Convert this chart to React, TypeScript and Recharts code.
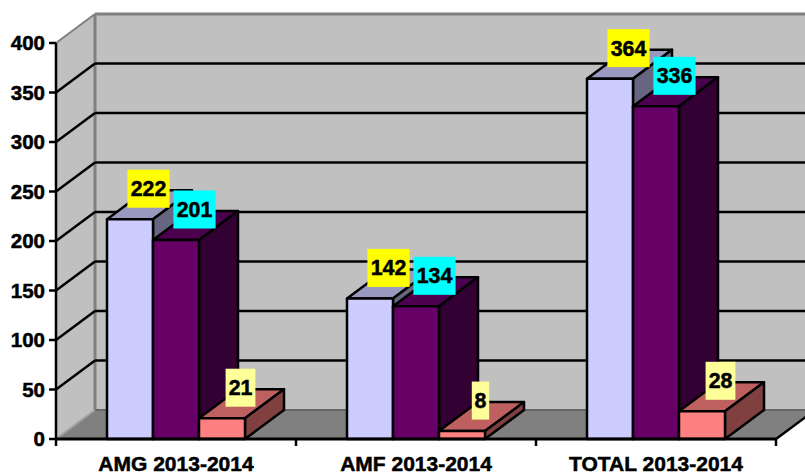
import React from "react";
import { BarChart, Bar, XAxis, YAxis, ReferenceArea, ReferenceLine, LabelList } from "recharts";

const categories = ["AMG 2013-2014", "AMF 2013-2014", "TOTAL 2013-2014"];
const seriesA = [222, 142, 364];
const seriesB = [201, 134, 336];
const seriesC = [21, 8, 28];
const yTicks = [0, 50, 100, 150, 200, 250, 300, 350, 400];
const gridValues = [50, 100, 150, 200, 250, 300, 350];

const data = categories.map((name, i) => ({ name, a: seriesA[i], b: seriesB[i], c: seriesC[i] }));

const DX = 39;
const DY = 29;
const FONT = "'Liberation Sans', Arial, sans-serif";

const pts = (p: number[][]) => p.map((q) => q.join(",")).join(" ");

const Walls = (props: any) => {
  const { x, y, width, height } = props;
  const b = y + height;
  const r = x + width;
  return (
    <g>
      <polygon points={pts([[x, y], [x + DX, y - DY], [r + DX, y - DY], [r + DX, b - DY], [x + DX, b - DY], [x, b]])} fill="#C0C0C0" />
      <polygon points={pts([[x, b], [x + DX, b - DY], [r + DX, b - DY], [r, b]])} fill="#808080" />
      <line x1={x + DX} y1={y - DY} x2={r + DX} y2={y - DY} stroke="#808080" strokeWidth={3} />
      <line x1={x + DX} y1={y - DY} x2={x + DX} y2={b - DY} stroke="#808080" strokeWidth={3} />
      <line x1={x} y1={y} x2={x + DX} y2={y - DY} stroke="#808080" strokeWidth={2} />
      <line x1={x} y1={b} x2={x + DX} y2={b - DY} stroke="#A0A0A0" strokeWidth={2} />
      <line x1={x + DX} y1={b - DY} x2={r + DX} y2={b - DY} stroke="#666666" strokeWidth={2} />
      <line x1={r} y1={b} x2={r + DX} y2={b - DY} stroke="#000" strokeWidth={2.5} />
      {[0, 1, 2, 3].map((i) => {
        const tx = x + (i * width) / categories.length;
        return <line key={i} x1={tx} y1={b} x2={tx} y2={b + 7} stroke="#000" strokeWidth={2.5} />;
      })}
    </g>
  );
};

const GridLine = (props: any) => {
  const { x1, y1, x2, y2 } = props;
  return (
    <g>
      <line x1={x1} y1={y1} x2={x1 + DX} y2={y1 - DY} stroke="#000" strokeWidth={2.5} />
      <line x1={x1 + DX} y1={y1 - DY} x2={x2 + DX} y2={y2 - DY} stroke="#000" strokeWidth={2.5} />
    </g>
  );
};

const box3d = (front: string, top: string, side: string) => (props: any) => {
  const { x, y, width, height } = props;
  const r = x + width;
  const b = y + height;
  return (
    <g stroke="#000" strokeWidth={2.5} strokeLinejoin="round">
      <polygon points={pts([[x, y], [x + DX, y - DY], [r + DX, y - DY], [r, y]])} fill={top} />
      <polygon points={pts([[r, y], [r + DX, y - DY], [r + DX, b - DY], [r, b]])} fill={side} />
      <rect x={x} y={y} width={width} height={height} fill={front} />
    </g>
  );
};

const valueTag = (fill: string) => (props: any) => {
  const { x, y, width, value } = props;
  const w = String(value).length * 12.4 + 5;
  const cx = x + width / 2 + 18.5;
  const cy = y - 30.5;
  return (
    <g>
      <rect x={cx - w / 2} y={cy - 19} width={w} height={38} fill={fill} />
      <text x={cx} y={cy + 7.5} textAnchor="middle" fontFamily={FONT} fontWeight="bold" fontSize={21.33} fill="#000" stroke="#000" strokeWidth={0.5}>
        {value}
      </text>
    </g>
  );
};

const yTickStyle = { fontFamily: FONT, fontWeight: "bold" as const, fontSize: 20.5, fill: "#000", stroke: "#000", strokeWidth: 0.5 };
const xTickStyle = { fontFamily: FONT, fontWeight: "bold" as const, fontSize: 21, fill: "#000", stroke: "#000", strokeWidth: 0.5 };

export default function App() {
  return (
    <div style={{ position: "absolute", left: 0, top: 0, width: 805, height: 473, overflow: "hidden", background: "#fff" }}>
      <BarChart
        width={805}
        height={473}
        data={data}
        margin={{ top: 43, right: 29, bottom: 0, left: 0 }}
        barCategoryGap={51}
        barGap={0}
      >
        <ReferenceArea y1={0} y2={400} shape={Walls} ifOverflow="visible" />
        {gridValues.map((v) => (
          <ReferenceLine key={v} y={v} shape={GridLine} ifOverflow="visible" {...({ zIndex: 150 } as any)} />
        ))}
        <XAxis
          dataKey="name"
          height={34}
          tick={xTickStyle}
          tickLine={false}
          axisLine={{ stroke: "#000", strokeWidth: 3 }}
          tickSize={7}
          tickMargin={10}
          interval={0}
        />
        <YAxis
          width={56}
          domain={[0, 400]}
          ticks={yTicks}
          tick={yTickStyle}
          tickLine={{ stroke: "#000", strokeWidth: 2.5 }}
          axisLine={{ stroke: "#000", strokeWidth: 2.5 }}
          tickSize={7}
          tickMargin={4}
          interval={0}
        />
        <Bar dataKey="a" isAnimationActive={false} shape={box3d("#CCCCFF", "#9999BF", "#666680")}>
          <LabelList dataKey="a" content={valueTag("#FFFF00")} />
        </Bar>
        <Bar dataKey="b" isAnimationActive={false} shape={box3d("#660066", "#4D004D", "#330033")}>
          <LabelList dataKey="b" content={valueTag("#00FFFF")} />
        </Bar>
        <Bar dataKey="c" isAnimationActive={false} shape={box3d("#FF8080", "#BF6060", "#804040")}>
          <LabelList dataKey="c" content={valueTag("#FFFF99")} />
        </Bar>
      </BarChart>
    </div>
  );
}
